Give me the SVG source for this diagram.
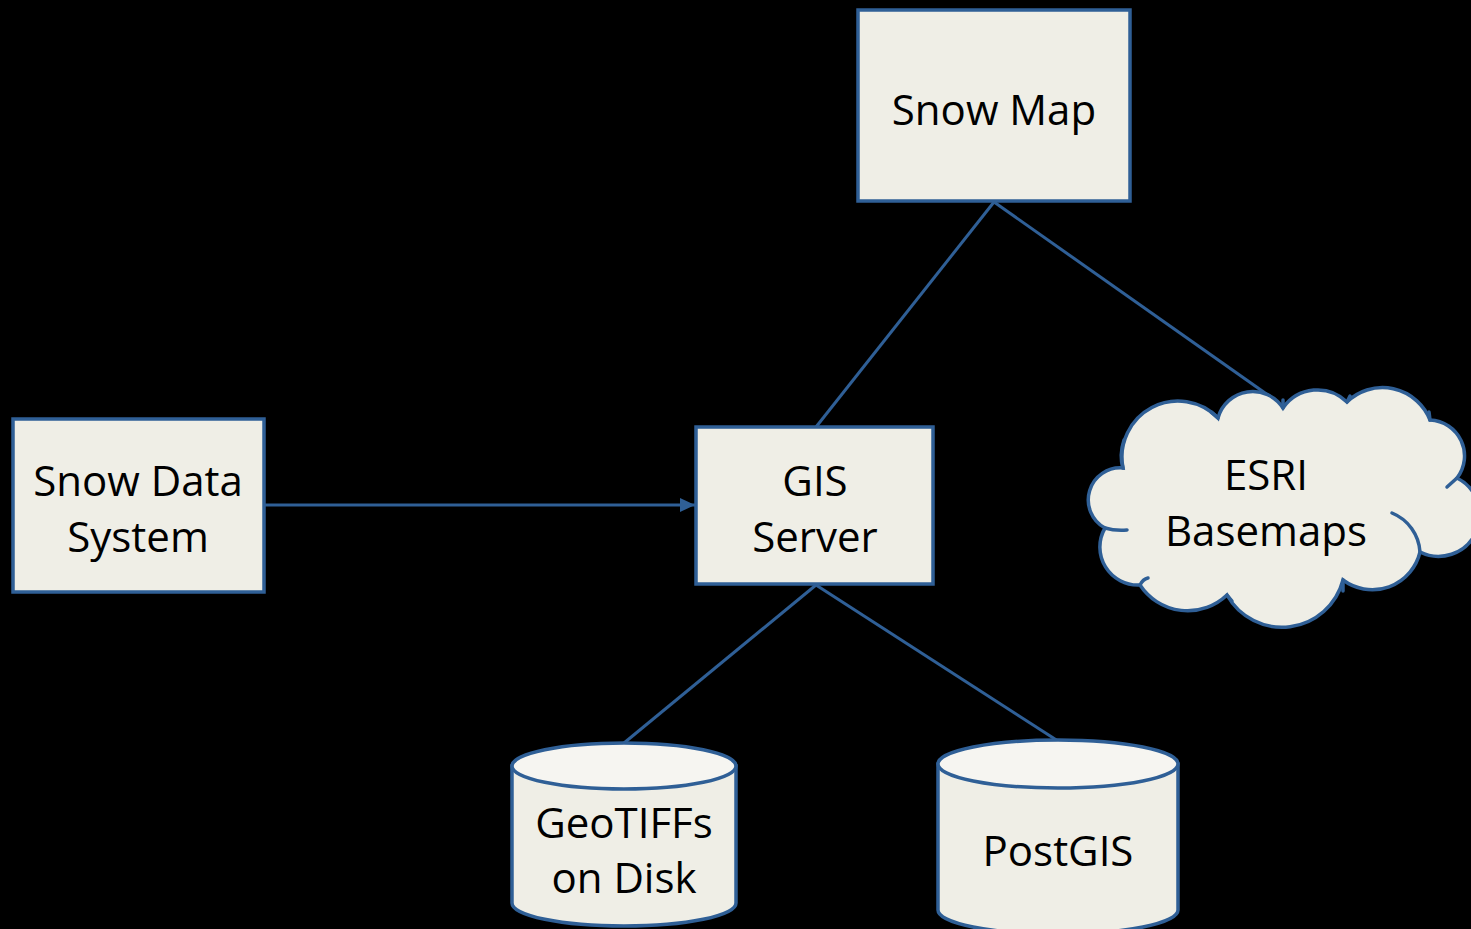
<svg xmlns="http://www.w3.org/2000/svg" width="1471" height="929" viewBox="0 0 1471 929">
<style>
.n{fill:#EFEEE6;stroke:#2F5F96;stroke-width:3.5}
.top{fill:#F6F5F1;stroke:#2F5F96;stroke-width:3.5}
.c{fill:none;stroke:#2F5F96;stroke-width:3}
.h{fill:none;stroke:#2F5F96;stroke-width:3.5;stroke-linecap:round}
text{font-family:"Open Sans","Noto Sans","Liberation Sans",sans-serif;font-size:42px;fill:#000;text-anchor:middle}
</style>
<defs>
<marker id="arr" markerWidth="16" markerHeight="14" refX="15" refY="7" orient="auto" markerUnits="userSpaceOnUse">
<path d="M0,0 L15,7 L0,14 Z" fill="#2F5F96"/>
</marker>
</defs>
<rect width="1471" height="929" fill="#000"/>
<g id="connectors">
<line class="c" x1="994" y1="202" x2="816" y2="427"/>
<line class="c" x1="994" y1="202" x2="1275" y2="400"/>
<line class="c" x1="265" y1="505" x2="695" y2="505" marker-end="url(#arr)"/>
<line class="c" x1="816" y1="585" x2="624" y2="743"/>
<line class="c" x1="816" y1="585" x2="1058" y2="741"/>
</g>
<g id="snow-map">
<rect class="n" x="858" y="10" width="272" height="191"/>
<text x="994" y="125">Snow Map</text>
</g>
<g id="snow-data-system">
<rect class="n" x="13" y="419" width="251" height="173"/>
<text x="138" y="496">Snow Data</text>
<text x="138" y="552">System</text>
</g>
<g id="gis-server">
<rect class="n" x="696" y="427" width="237" height="157"/>
<text x="815" y="496">GIS</text>
<text x="815" y="552">Server</text>
</g>
<g id="esri-basemaps">
<path class="n" d="M1123,468 A56,56 0 0 1 1218,418 A36,36 0 0 1 1283,408 A42,42 0 0 1 1347,402 A51,51 0 0 1 1430,420 A36,36 0 0 1 1457,478 A41,41 0 0 1 1420,552 A49,49 0 0 1 1343,580 A63,63 0 0 1 1227,595 A57,57 0 0 1 1140,585 A38,38 0 0 1 1105,528 A32,32 0 0 1 1123,468 Z"/>
<path class="h" d="M1123,468 Q1119,455 1124,440"/>
<path class="h" d="M1218,418 Q1215,415 1211,412"/>
<path class="h" d="M1283,408 L1283,400"/>
<path class="h" d="M1347,402 L1350,396"/>
<path class="h" d="M1430,420 L1429,412"/>
<path class="h" d="M1457,478 L1447,487"/>
<path class="h" d="M1392,513 A45,45 0 0 1 1420,552"/>
<path class="h" d="M1343,580 L1343,591"/>
<path class="h" d="M1227,595 L1232,601"/>
<path class="h" d="M1140,585 Q1143,579 1148,578"/>
<path class="h" d="M1105,528 Q1115,531 1127,530"/>
<text x="1266" y="490">ESRI</text>
<text x="1266" y="546">Basemaps</text>
</g>
<g id="geotiffs">
<path class="n" d="M512,766 L512,903 A112,23 0 0 0 736,903 L736,766 Z"/>
<ellipse class="top" cx="624" cy="766" rx="112" ry="23"/>
<text x="624" y="838">GeoTIFFs</text>
<text x="624" y="893">on Disk</text>
</g>
<g id="postgis">
<path class="n" d="M938,764 L938,910 A120,24 0 0 0 1178,910 L1178,764 Z"/>
<ellipse class="top" cx="1058" cy="764" rx="120" ry="24"/>
<text x="1058" y="866">PostGIS</text>
</g>
</svg>
